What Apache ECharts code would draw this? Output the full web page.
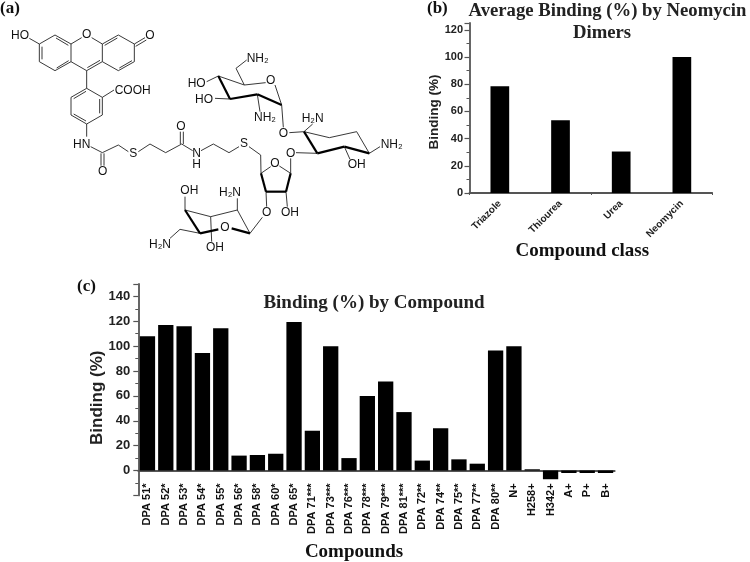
<!DOCTYPE html>
<html><head><meta charset="utf-8">
<style>html,body{margin:0;padding:0;background:#fff}#c{width:750px;height:562px}</style>
<script src="https://cdn.jsdelivr.net/npm/echarts@6/dist/echarts.min.js"></script>
</head><body><div id="c"></div>
<script>
const classCategories = ['Triazole','Thiourea','Urea','Neomycin'];
const classValues = [78.5,53.5,30.5,100];
const compoundCategories = ['DPA 51*','DPA 52*','DPA 53*','DPA 54*','DPA 55*','DPA 56*','DPA 58*','DPA 60*','DPA 65*','DPA 71***','DPA 73***','DPA 76***','DPA 78***','DPA 79***','DPA 81***','DPA 72**','DPA 74**','DPA 75**','DPA 77**','DPA 80**','N+','H258+','H342+','A+','P+','B+'];
const compoundValues = [108,117,116,94.5,114.5,12,12.5,13.5,119.5,32,100,10,60,71.5,47,8,34,9,5.5,96.5,100,1,-7,-2,-2,-2];

// Structure drawing (panel a), in 3x crop units.
const thinBonds = [
[88,115,118,132],[118,132,165,105],[165,105,213,132],[213,132,213,185],[213,185,165,212],[165,212,118,185],[118,185,118,132],
[126,140,126,178],[168,114,205,136],[170,204,206,182],
[213,132,245,113],[275,113,307,132],[307,132,307,185],[307,185,260,212],[260,212,213,185],[262,203,300,181],
[307,132,355,105],[355,105,403,132],[403,132,403,185],[403,185,355,212],[355,212,307,185],
[352,114,314,136],[358,204,396,182],[403,132,435,113],[407,139,439,120],
[260,212,260,265],[260,265,307,292],[307,292,307,345],[307,345,260,372],[260,372,213,345],[213,345,213,292],[213,292,260,265],
[299,297,299,340],[258,363,221,342],[221,296,258,274],[307,292,342,270],
[260,372,260,410],[272,440,307,458],[307,458,355,435],[303,460,303,497],[312,460,312,497],
[355,435,385,455],[415,455,450,432],[450,432,497,458],[497,458,545,432],[541,432,541,395],[550,432,550,395],
[545,432,578,452],[603,452,640,432],[640,432,687,458],[687,458,717,440],[747,440,782,465],[782,465,783,520],
[783,520,812,500],[838,498,872,520],[872,520,872,475],[858,575,862,620],[798,575,800,620],
[740,180,708,205],[708,205,733,255],[655,228,733,255],[733,255,797,248],[825,255,845,315],
[620,245,655,228],[645,295,690,297],[772,283,780,335],[845,315,850,382],
[938,372,912,395],[868,398,912,395],[912,395,988,413],[988,413,1070,395],[1070,395,1108,460],
[1108,460,1140,440],[1033,440,1050,478],[888,458,952,460],
[787,652,750,700],[750,700,712,630],[712,630,632,650],[632,650,555,630],
[712,595,712,630],[555,590,555,630],[600,700,540,688],[540,688,510,715],[632,650,635,725]
];
const boldBonds = [
[783,520,798,575],[798,575,858,575],[858,575,872,520],
[845,315,772,283],[772,283,690,297],[690,297,655,228],
[1108,460,1033,440],[1033,440,952,460],[952,460,912,395],
[555,630,600,700],[600,700,655,688],[695,685,750,700]
];
const atomLabels = [
['HO',60,107],['O',260,105],['O',450,107],['COOH',398,272],['HN',245,433],['O',308,515],['S',400,460],['O',543,380],['N',590,460],['H',590,493],['S',732,432],
['O',825,492],['O',872,460],['OH',870,637],['O',800,637],['NH₂',773,176],['O',812,243],['HO',590,250],['HO',612,298],['NH₂',795,352],['O',850,400],
['H₂N',938,355],['NH₂',1175,433],['OH',1070,493],['H₂N',690,578],['OH',568,573],['O',675,683],['H₂N',480,735],['OH',645,742]
];

const serif = '"Liberation Serif","Times New Roman",serif';
const sans = '"Liberation Sans",Arial,sans-serif';
const axisColor = '#555';
const graphic = [];
thinBonds.forEach(b => graphic.push({type:'line',silent:true,shape:{x1:b[0]/3,y1:b[1]/3,x2:b[2]/3,y2:b[3]/3},style:{stroke:'#222',lineWidth:0.9}}));
boldBonds.forEach(b => graphic.push({type:'line',silent:true,shape:{x1:b[0]/3,y1:b[1]/3,x2:b[2]/3,y2:b[3]/3},style:{stroke:'#000',lineWidth:2.2}}));
atomLabels.forEach(a => graphic.push({type:'text',silent:true,x:a[1]/3,y:a[2]/3,style:{text:a[0],x:0,y:0,align:'center',verticalAlign:'middle',fill:'#111',font:'12px '+sans}}));
[['(a)',0,9],['(b)',427,9],['(c)',77,287]].forEach(p => graphic.push({type:'text',silent:true,x:p[1],y:p[2],style:{text:p[0],align:'left',verticalAlign:'middle',fill:'#111',font:'bold 17px '+serif}}));

function yAxis(idx,max,labelSize,margin,name,nameSize,gap,shift){
  return {type:'value',gridIndex:idx,min:idx?-20:0,max,interval:20,
    axisLine:{show:true,onZero:false,lineStyle:{color:axisColor,width:1.8}},
    axisTick:{show:true,inside:false,length:5,lineStyle:{color:axisColor,width:1.2}},
    minorTick:{show:true,splitNumber:2,length:3,lineStyle:{color:axisColor,width:1}},
    splitLine:{show:false},minorSplitLine:{show:false},
    axisLabel:{margin,color:'#222',fontFamily:sans,fontWeight:'bold',fontSize:labelSize,
      formatter:v=>(v>=0&&v%20===0)?String(v):''},
    name,nameLocation:'middle',nameGap:gap,nameRotate:90,nameMoveOverlap:false,
    nameTextStyle:{color:'#222',fontFamily:sans,fontWeight:'bold',fontSize:nameSize,padding:[0,shift,0,0]}
  };
}
const option = {
  backgroundColor:'#fff',animation:false,
  title:[
    {text:'Average Binding (%) by Neomycin',left:607.5,top:2,padding:0,textAlign:'center',
      textStyle:{fontFamily:serif,fontWeight:'bold',fontSize:18.7,color:'#222'}},
    {text:'Dimers',left:602,top:24,padding:0,textAlign:'center',
      textStyle:{fontFamily:serif,fontWeight:'bold',fontSize:18.7,color:'#222'}},
    {text:'Binding (%) by Compound',left:374,top:294,padding:0,textAlign:'center',
      textStyle:{fontFamily:serif,fontWeight:'bold',fontSize:19,color:'#222'}}
  ],
  grid:[
    {left:469.5,top:23,width:242.7,height:170,outerBoundsMode:'none'},
    {left:138.3,top:284,width:476.4,height:211.4,outerBoundsMode:'none'}
  ],
  xAxis:[
    {type:'category',gridIndex:0,data:classCategories,
      axisLine:{lineStyle:{color:axisColor,width:1.8}},
      axisTick:{alignWithLabel:true,length:4,lineStyle:{color:axisColor,width:1.2}},
      axisLabel:{rotate:45,margin:9,interval:0,color:'#222',fontFamily:sans,fontSize:10,fontWeight:'bold'},
      name:'Compound class',nameLocation:'middle',nameGap:49,nameMoveOverlap:false,
      nameTextStyle:{color:'#111',fontFamily:serif,fontWeight:'bold',fontSize:19,padding:[0,17,0,0]}},
    {type:'category',gridIndex:1,data:compoundCategories,
      axisLine:{onZero:true,lineStyle:{color:axisColor,width:1.8}},
      axisTick:{alignWithLabel:true,length:4,lineStyle:{color:axisColor,width:1.2}},
      axisLabel:{rotate:90,margin:-12,interval:0,color:'#111',fontFamily:sans,fontSize:11,fontWeight:'bold'},
      name:'Compounds',nameLocation:'middle',nameGap:47,nameMoveOverlap:false,
      nameTextStyle:{color:'#111',fontFamily:serif,fontWeight:'bold',fontSize:19,padding:[0,45,0,0]}},
    {type:'category',gridIndex:0,position:'bottom',data:classCategories,
      axisLine:{show:false},
      axisTick:{show:true,alignWithLabel:false,length:2,lineStyle:{color:axisColor,width:1}},
      axisLabel:{show:false}}
  ],
  yAxis:[
    yAxis(0,125,11,6.5,'Binding (%)',13.5,28,8),
    yAxis(1,150,13,8,'Binding (%)',17,32,16)
  ],
  series:[
    {type:'bar',xAxisIndex:0,yAxisIndex:0,data:classValues,barWidth:18.7,itemStyle:{color:'#000'}},
    {type:'bar',xAxisIndex:1,yAxisIndex:1,data:compoundValues,barWidth:15.3,itemStyle:{color:'#000'}}
  ],
  graphic
};
echarts.init(document.getElementById('c'),null,{renderer:'canvas'}).setOption(option);
</script></body></html>
